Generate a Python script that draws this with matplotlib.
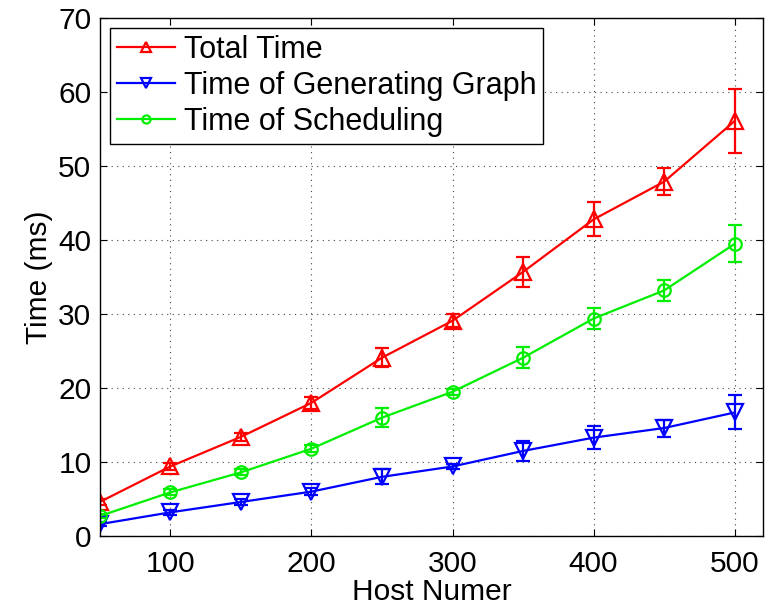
import matplotlib
matplotlib.use("Agg")
import matplotlib.pyplot as plt

# data
hosts = [50, 100, 150, 200, 250, 300, 350, 400, 450, 500]

total_time = [4.6, 9.4, 13.4, 18.0, 24.1, 29.1, 35.7, 42.8, 47.9, 56.1]
total_err = [0.4, 0.5, 0.5, 0.8, 1.3, 0.9, 2.0, 2.3, 1.8, 4.3]

graph_time = [1.6, 3.2, 4.6, 6.0, 8.0, 9.4, 11.5, 13.3, 14.6, 16.7]
graph_err = [0.3, 0.3, 0.4, 0.5, 1.0, 0.4, 1.4, 1.6, 1.15, 2.3]

sched_time = [2.7, 5.9, 8.6, 11.8, 16.0, 19.5, 24.1, 29.4, 33.2, 39.5]
sched_err = [0.3, 0.4, 0.4, 0.5, 1.3, 0.4, 1.4, 1.4, 1.4, 2.5]

labels = ["Total Time", "Time of Generating Graph", "Time of Scheduling"]

plt.rcParams['font.family'] = ['Liberation Sans', 'DejaVu Sans']
FS = 21.5

fig = plt.figure(figsize=(7.73, 6.05), dpi=100)
ax = fig.add_axes([0.129, 0.114, 0.858, 0.856])

ax.errorbar(hosts, total_time, yerr=total_err, color='#ff0000', marker='^',
            markersize=11, markerfacecolor='none', markeredgewidth=1.6,
            linewidth=1.6, capsize=5, elinewidth=1.6, capthick=1.6,
            label=labels[0])
ax.errorbar(hosts, graph_time, yerr=graph_err, color='#0000ff', marker='v',
            markersize=11, markerfacecolor='none', markeredgewidth=1.6,
            linewidth=1.6, capsize=5, elinewidth=1.6, capthick=1.6,
            label=labels[1])
ax.errorbar(hosts, sched_time, yerr=sched_err, color='#00ee00', marker='o',
            markersize=9, markerfacecolor='none', markeredgewidth=1.6,
            linewidth=1.6, capsize=5, elinewidth=1.6, capthick=1.6,
            label=labels[2])

ax.set_xlim(50, 520)
ax.set_ylim(0, 70)
ax.set_xticks([100, 200, 300, 400, 500])
ax.set_yticks(range(0, 71, 10))
ax.tick_params(direction='in', top=True, right=True, labelsize=FS, length=5)
ax.tick_params(axis='x', pad=10)
ax.tick_params(axis='y', pad=6)
ax.grid(True, linestyle=(0, (1, 4)), color='#444444', linewidth=0.8)
for sp in ax.spines.values():
    sp.set_linewidth(1.0)

ax.set_xlabel("Host Numer", fontsize=FS, labelpad=0)
ax.set_ylabel("Time (ms)", fontsize=FS, labelpad=4)

# legend shows plain line+marker handles, like matlab
handles, labs = ax.get_legend_handles_labels()
handles = [h[0] for h in handles]
leg = ax.legend(handles, labs, loc='upper left', fontsize=22, fancybox=False,
                framealpha=1, edgecolor='black', borderaxespad=0.33,
                handlelength=1.9, handletextpad=0.3, labelspacing=0.2,
                borderpad=0.22, markerscale=0.65)
leg.get_frame().set_linewidth(1.0)

fig.savefig("out.png", dpi=100)
